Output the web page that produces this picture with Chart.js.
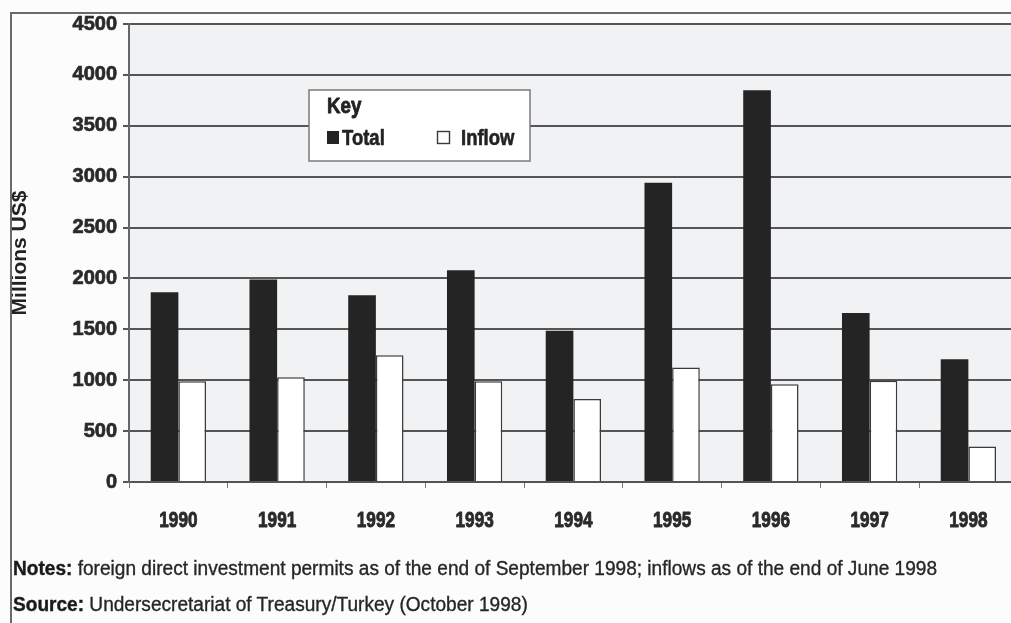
<!DOCTYPE html>
<html>
<head>
<meta charset="utf-8">
<script src="https://cdn.jsdelivr.net/npm/chart.js@4.4.1/dist/chart.umd.min.js"></script>
<style>
  html, body { margin:0; padding:0; background:#fcfcfc; overflow:hidden; }
  #wrap { position:relative; width:1011px; height:623px; overflow:hidden; background:#fcfcfc; }
  #cv { position:absolute; left:0; top:0; }
  .fr { position:absolute; background:#6a6a6a; }
  .note { position:absolute; left:13px; font-family:'Liberation Sans',Arial,sans-serif;
          font-size:20px; color:#262626; white-space:nowrap; line-height:24px;
          transform-origin:0 50%; -webkit-text-stroke:0.35px #262626; }
  .note b { font-weight:bold; color:#1a1a1a; -webkit-text-stroke:0.4px #1a1a1a; }
</style>
</head>
<body>
<div id="wrap">
  <canvas id="cv" width="1030" height="623"></canvas>
  <div class="fr" style="left:10px;top:12px;width:1001px;height:2px;"></div>
  <div class="fr" style="left:10px;top:12px;width:2px;height:611px;"></div>
  <div class="note" id="notes" style="top:556px;"></div>
  <div class="note" id="source" style="top:592px;"></div>
</div>
<script>
// ---- data ----
const years = ['1990','1991','1992','1993','1994','1995','1996','1997','1998'];
const totalValues  = [1865, 1990, 1835, 2080, 1485, 2940, 3850, 1660, 1205];
const inflowValues = [ 990, 1030, 1245,  990,  815, 1125,  960,  995,  350];
const seriesNames = ['Total', 'Inflow'];
const yTickStep = 500;
const yMax = 4500;
const yAxisTitle = 'Millions US$';
const legendTitle = 'Key';
const notesLabel = 'Notes:';
const notesText = ' foreign direct investment permits as of the end of September 1998; inflows as of the end of June 1998';
const sourceLabel = 'Source:';
const sourceText = ' Undersecretariat of Treasury/Turkey (October 1998)';

const notesEl = document.getElementById('notes');
const sourceEl = document.getElementById('source');
notesEl.innerHTML = '<b>' + notesLabel + '</b>' + notesText;
sourceEl.innerHTML = '<b>' + sourceLabel + '</b>' + sourceText;
// condense the note lines so the first spans the same width as in the reference
const sx = 924 / notesEl.getBoundingClientRect().width;
notesEl.style.transform = 'scaleX(' + sx + ')';
sourceEl.style.transform = 'scaleX(' + sx + ')';

const SANS = "'Liberation Sans',Arial,sans-serif";

const plotBg = {
  id: 'plotBg',
  beforeDraw(chart) {
    const {ctx, chartArea: a} = chart;
    ctx.save();
    ctx.fillStyle = '#f1f2f3';
    ctx.fillRect(a.left, a.top, a.right - a.left, a.bottom - a.top);
    ctx.restore();
  }
};

function narrowText(ctx, text, x, y, align, scale, stroke) {
  ctx.save();
  ctx.translate(x, y);
  ctx.scale(scale, 1);
  ctx.textAlign = align;
  if (stroke) {
    ctx.lineWidth = stroke;
    ctx.strokeStyle = ctx.fillStyle;
    ctx.lineJoin = 'round';
    ctx.strokeText(text, 0, 0);
  }
  ctx.fillText(text, 0, 0);
  ctx.restore();
}

// x category labels, condensed, positioned by the x scale
const narrowXLabels = {
  id: 'narrowXLabels',
  afterDraw(chart) {
    const ctx = chart.ctx;
    const xs = chart.scales.x;
    ctx.save();
    ctx.fillStyle = '#2a2a2a';
    ctx.font = 'bold 22px ' + SANS;
    ctx.textBaseline = 'alphabetic';
    chart.data.labels.forEach((lab, i) => {
      narrowText(ctx, lab, xs.getPixelForTick(i), 527, 'center', 0.78, 0.9);
    });
    ctx.restore();
  }
};

const keyBox = {
  id: 'keyBox',
  afterDraw(chart) {
    const ctx = chart.ctx;
    const bx = 309, by = 90, bw = 221, bh = 71;
    ctx.save();
    ctx.fillStyle = '#ffffff';
    ctx.fillRect(bx, by, bw, bh);
    ctx.strokeStyle = '#7a7a7a';
    ctx.lineWidth = 1.5;
    ctx.strokeRect(bx, by, bw, bh);
    ctx.fillStyle = '#222';
    ctx.textBaseline = 'alphabetic';
    ctx.font = 'bold 22px ' + SANS;
    narrowText(ctx, legendTitle, 327, 113, 'left', 0.85, 0.8);
    const items = [{sx: 327, tx: 342}, {sx: 437, tx: 461}];
    chart.data.datasets.forEach((ds, i) => {
      const it = items[i];
      ctx.fillStyle = ds.backgroundColor;
      ctx.fillRect(it.sx, 131, 12, 13);
      if (ds.borderWidth) {
        ctx.strokeStyle = ds.borderColor;
        ctx.lineWidth = 1.4;
        ctx.strokeRect(it.sx + 0.5, 131.5, 12, 12);
      }
      ctx.fillStyle = '#222';
      narrowText(ctx, ds.label, it.tx, 145, 'left', 0.84, 0.6);
    });
    ctx.restore();
  }
};

new Chart(document.getElementById('cv'), {
  type: 'bar',
  data: {
    labels: years,
    datasets: [
      { label: seriesNames[0], data: totalValues, backgroundColor: '#242424', borderWidth: 0 },
      { label: seriesNames[1], data: inflowValues, backgroundColor: '#ffffff', borderColor: '#3a3a3a', borderWidth: 1.5 }
    ]
  },
  options: {
    responsive: false,
    animation: false,
    devicePixelRatio: 1,
    layout: { padding: { left: 0, top: 24, right: 12.25, bottom: 0 } },
    datasets: { bar: { categoryPercentage: 0.56, barPercentage: 1.0 } },
    plugins: { legend: { display: false }, tooltip: { enabled: false } },
    scales: {
      x: {
        grid: { display: true, drawOnChartArea: false, drawTicks: true, tickLength: 6, color: '#777', lineWidth: 1, offset: true },
        border: { display: false },
        ticks: { display: false },
        afterFit(scale) { scale.height = 623 - 482; }
      },
      y: {
        min: 0, max: yMax,
        ticks: { stepSize: yTickStep, color: '#2a2a2a', font: { family: SANS, size: 20, weight: 'bold' }, padding: 6,
                 textStrokeColor: '#2a2a2a', textStrokeWidth: 0.7,
                 callback: (v) => String(v) },
        grid: { color: '#555', lineWidth: 2, tickLength: 6 },
        border: { display: true, color: '#666', width: 2 },
        title: { display: true, text: yAxisTitle, color: '#222', font: { family: SANS, size: 21, weight: 'bold' }, padding: { top: 8, bottom: 0 } },
        afterFit(scale) { scale.width = 129; }
      }
    }
  },
  plugins: [plotBg, narrowXLabels, keyBox]
});
</script>
</body>
</html>
